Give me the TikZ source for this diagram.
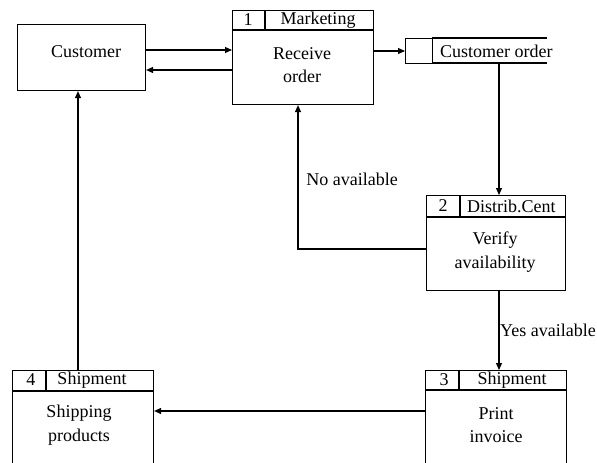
\documentclass[tikz,border=0pt]{standalone}
\usepackage{fontspec}
\setmainfont{Liberation Serif}
\usetikzlibrary{arrows.meta}
\begin{document}
\begin{tikzpicture}[x=1pt,y=-1pt,
  box/.style={draw, line width=1.1pt, inner sep=0pt, anchor=north west},
  lbl/.style={font=\fontsize{18}{23.5}\selectfont, align=center, inner sep=0pt},
  arr/.style={-{Triangle[length=7pt,width=6pt]}, line width=1.1pt},
  ln/.style={line width=1.1pt}]
\useasboundingbox (0,0) rectangle (597,463);
\clip (0,0) rectangle (597,463);
% Customer
\node[box, minimum width=128pt, minimum height=66pt] (cust) at (17,24) {};
\node[lbl] (custt) at (86,52) {Customer};
% Process 1
\node[box, minimum width=141pt, minimum height=94pt] (p1) at (232,10) {};
\draw[ln] (232,30) -- (373,30);
\draw[ln] (265,10) -- (265,30);
\node[lbl] (p1n) at (248,20) {1};
\node[lbl] (p1h) at (318,20) {Marketing};
\node[lbl] (p1t) at (302,65) {Receive\\order};
% Data store
\node[box, minimum width=27pt, minimum height=25pt] (ds) at (405,38) {};
\draw[ln] (432,38) -- (547,38);
\draw[ln] (432,63) -- (547,63);
\node[lbl, anchor=west] (dst) at (440,51) {Customer order};
\coordinate (dsb) at (499,63);
% Process 2
\node[box, minimum width=139pt, minimum height=95pt] (p2) at (426,195) {};
\draw[ln] (426,217) -- (565,217);
\draw[ln] (460,195) -- (460,217);
\node[lbl] (p2n) at (443,206) {2};
\begin{scope}
\clip (460,195) rectangle (565,217);
\node[lbl, anchor=west] (p2h) at (467,206) {Distrib.Cent};
\end{scope}
\node[lbl] (p2t) at (495,252) {Verify\\availability};
% Process 3
\node[box, minimum width=141pt, minimum height=120pt] (p3) at (425,370) {};
\draw[ln] (425,390) -- (566,390);
\draw[ln] (459,370) -- (459,390);
\node[lbl] (p3n) at (444,380) {3};
\node[lbl] (p3h) at (512,380) {Shipment};
\node[lbl] (p3t) at (496,425) {Print\\invoice};
% Process 4
\node[box, minimum width=141pt, minimum height=120pt] (p4) at (12,370) {};
\draw[ln] (12,391) -- (153,391);
\draw[ln] (46,370) -- (46,391);
\node[lbl] (p4n) at (31,380) {4};
\node[lbl] (p4h) at (92,380) {Shipment};
\node[lbl] (p4t) at (79,425) {Shipping\\products};
% Connectors
\draw[arr] (cust.east |- 0,50) -- (p1.west |- 0,50);
\draw[arr] (p1.west |- 0,70) -- (cust.east |- 0,70);
\draw[arr] (p1.east |- 0,51) -- (ds.west |- 0,51);
\draw[arr] (dsb) -- (p2.north -| dsb);
\draw[arr] (p2.west |- 0,249) -- (298,249) -- (p1.south -| 298,0);
\draw[arr] (p2.south -| 499,0) -- (p3.north -| 499,0);
\draw[arr] (p3.west |- 0,411) -- (p4.east |- 0,411);
\draw[arr] (p4.north -| 78,0) -- (cust.south -| 78,0);
% Labels
\node[lbl] (no) at (352,179) {No available};
\node[lbl, anchor=west] (yes) at (500,330) {Yes available};
\end{tikzpicture}
\end{document}
